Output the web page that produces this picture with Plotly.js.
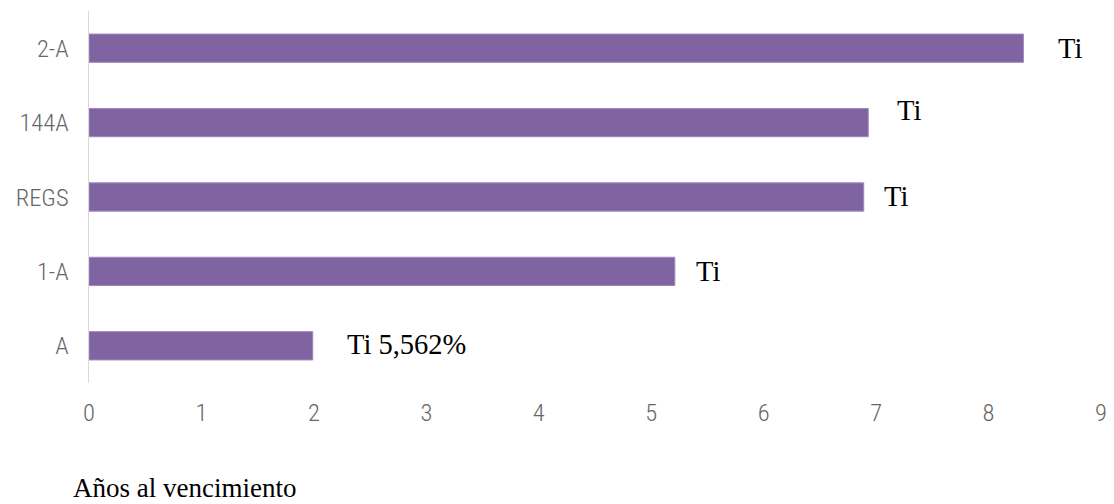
<!DOCTYPE html>
<html>
<head>
<meta charset="utf-8">
<script src="https://cdn.plot.ly/plotly-3.0.1.min.js"></script>
<style>
  html, body { margin: 0; padding: 0; background: #ffffff; }
  #chart { width: 1114px; height: 504px; }
</style>
</head>
<body>
<div id="chart"></div>
<script>
// Data
const categories = ["A", "1-A", "REGS", "144A", "2-A"];
const yearsToMaturity = [1.99, 5.21, 6.89, 6.93, 8.31];
const barLabels = ["Ti 5,562%", "Ti", "Ti", "Ti", "Ti"];
const xTickValues = [0, 1, 2, 3, 4, 5, 6, 7, 8, 9];
const axisTitle = "Años al vencimiento";

// Label placement (style, not data)
const labelXShift = [32, 19, 18, 27, 33];
const labelYShift = [1, 0, 1, 12, 0];

const tickFont = { family: "'Liberation Sans Narrow', 'Arial Narrow', 'Roboto Condensed', sans-serif", size: 24.5, color: "#666666", weight: 300 };
const labelFont = { family: "'Liberation Serif', 'Times New Roman', serif", size: 28.5, color: "#000000" };
const titleFont = { family: "'Liberation Serif', 'Times New Roman', serif", size: 27, color: "#000000" };

const trace = {
  type: "bar",
  orientation: "h",
  x: yearsToMaturity,
  y: categories,
  width: 0.38,
  marker: { color: "#8064A2", line: { color: "#9d88bd", width: 1 } },
  hoverinfo: "x+y"
};

const annotations = categories.map((c, i) => ({
  x: yearsToMaturity[i],
  y: c,
  xref: "x",
  yref: "y",
  text: barLabels[i],
  showarrow: false,
  xanchor: "left",
  yanchor: "middle",
  xshift: labelXShift[i],
  yshift: labelYShift[i],
  font: labelFont
}));

annotations.push({
  xref: "paper",
  yref: "paper",
  x: -0.018,
  y: -0.282,
  xanchor: "left",
  yanchor: "middle",
  text: axisTitle,
  showarrow: false,
  font: titleFont
});

const layout = {
  width: 1114,
  height: 504,
  margin: { l: 89, r: 12.5, t: 11, b: 121 },
  paper_bgcolor: "#ffffff",
  plot_bgcolor: "#ffffff",
  showlegend: false,
  xaxis: {
    range: [0, 9],
    tickvals: xTickValues,
    ticktext: xTickValues.map(String),
    showgrid: false,
    zeroline: false,
    showline: false,
    ticks: "",
    tickfont: tickFont,
    ticklabelstandoff: 12,
    automargin: false
  },
  yaxis: {
    type: "category",
    categoryorder: "array",
    categoryarray: categories,
    range: [-0.5, 4.5],
    showgrid: false,
    zeroline: false,
    showline: true,
    linecolor: "#d9d9d9",
    linewidth: 1.5,
    ticks: "",
    tickfont: tickFont,
    ticklabelstandoff: 14,
    automargin: false
  },
  annotations: annotations
};

Plotly.newPlot("chart", [trace], layout, { displayModeBar: false, staticPlot: true });
</script>
</body>
</html>
